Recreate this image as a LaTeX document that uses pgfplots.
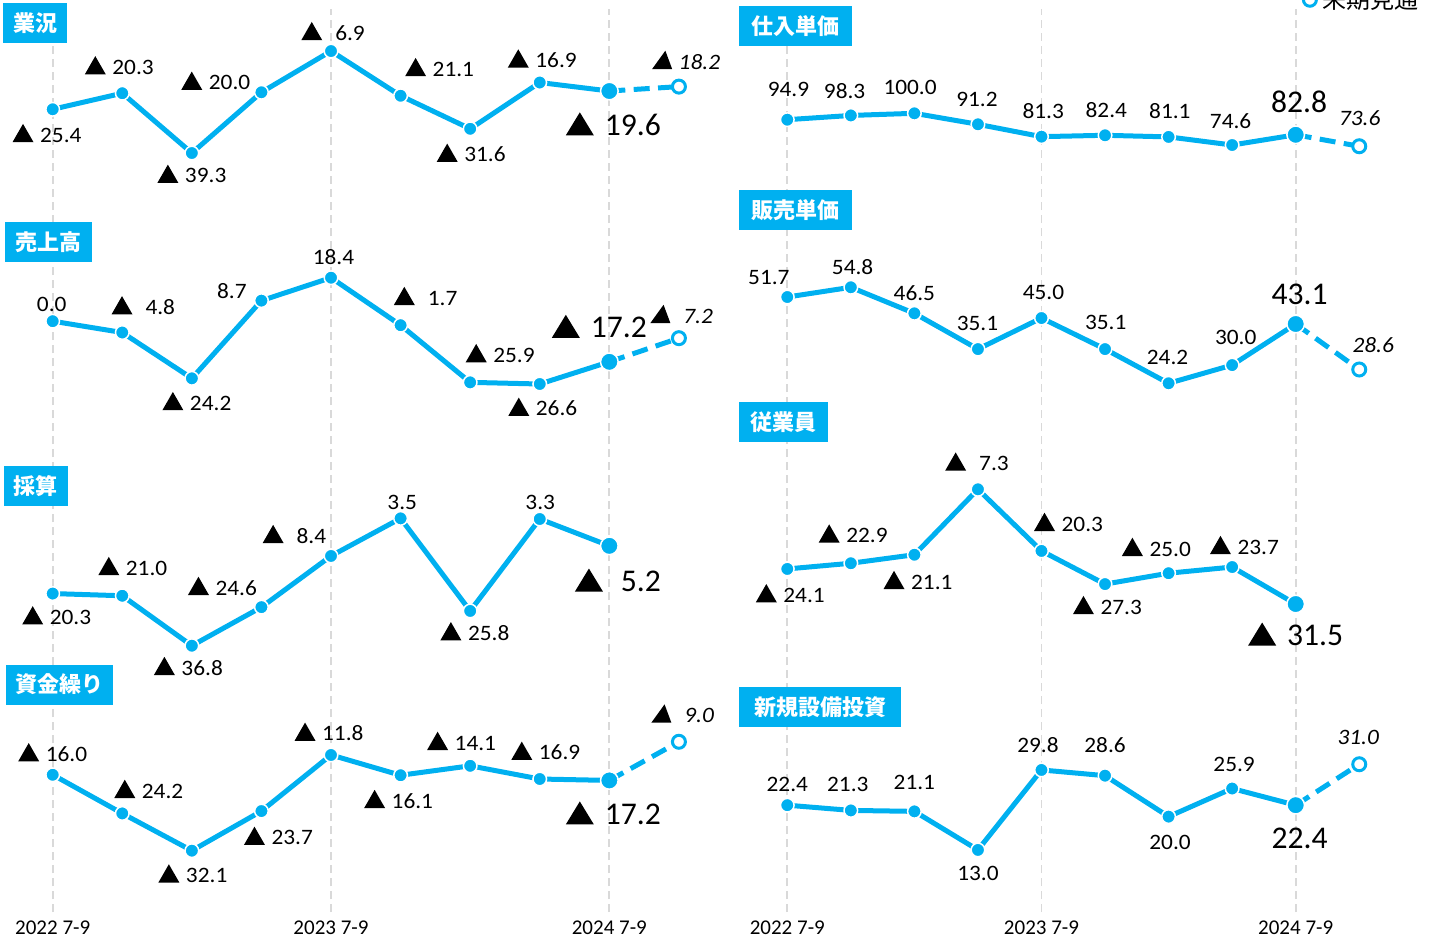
\documentclass[border=0pt]{standalone}
\usepackage{pgfplots}
\pgfplotsset{compat=1.18}
\usepackage{fontspec}
\setmainfont{Carlito}
\newfontfamily\lblfont[FakeStretch=1.06]{Carlito}
\newfontfamily\bigfont{Carlito}
\newfontfamily\cjk{Noto Sans CJK JP}

\definecolor{cy}{HTML}{00B0F0}
\definecolor{gridc}{HTML}{D9D9D9}

% triangles for negative values (small, italic, large), built once
\newsavebox\trSbox
\newsavebox\trIbox
\newsavebox\trLbox
\newcommand{\mn}[1]{\usebox\trSbox\hspace{3.3pt}#1}
\newcommand{\mns}[1]{\usebox\trSbox\hspace{6.5pt}#1}
\newcommand{\mnL}[1]{\usebox\trLbox\hspace{5.5pt}#1}
\newcommand{\mnLs}[1]{\usebox\trLbox\hspace{9pt}#1}
\newcommand{\mnIs}[1]{\usebox\trIbox\hspace{6.5pt}#1}
\newcommand{\mnI}[1]{\usebox\trIbox\hspace{3.3pt}#1}

% label at point (x,v), shifted by (dx,dy) pixels, dy downwards
\newcommand{\lbl}[6][lb]{\node[#1] at ([xshift={(#4)*0.5pt}, yshift={-(#5)*0.5pt}]axis cs:#2,#3) {#6};}
% title box, centre in pixels
\newcommand{\ttl}[4]{\node[ttl, minimum width=#3pt] at ({#1*0.5pt},{(939-#2)*0.5pt}) {#4};}

\tikzset{
  lb/.style={font=\lblfont\fontsize{11pt}{13pt}\selectfont, inner sep=0pt, anchor=base, yshift=-3.45pt},
  lbi/.style={lb, font=\lblfont\itshape\fontsize{11pt}{13pt}\selectfont},
  lbL/.style={font=\bigfont\fontsize{15.8pt}{18pt}\selectfont, inner sep=0pt, anchor=base, yshift=-5pt},
  ttl/.style={fill=cy, text=white, font=\cjk\bfseries\fontsize{11pt}{11pt}\selectfont,
    inner xsep=0pt, inner ysep=0pt, minimum height=20pt},
}

\pgfplotsset{
  panel/.style={scale only axis, hide axis, clip=false, xmin=-0.5, xmax=9.5, anchor=south west},
  lcol/.style={panel, width=347.9pt},
  rcol/.style={panel, width=317.75pt},
  bg/.style={scale only axis, anchor=south west, height=451.5pt, xmin=-0.5, xmax=9.5, ymin=0, ymax=1,
    axis line style={draw=none}, ytick=\empty, xtick={0,4,8},
    xticklabels={2022 7-9, 2023 7-9, 2024 7-9}, major tick length=0pt,
    xmajorgrids, grid style={gridc, line width=0.9pt, dash pattern=on 4pt off 2.5pt},
    xticklabel style={font=\fontsize{10.5pt}{12pt}\selectfont, anchor=center, yshift=-8pt}},
  sol/.style={cy, line width=2.5pt, line join=round, mark=*, mark size=3.4pt,
    mark options={solid, fill=cy, draw=white, line width=0.75pt}},
  big/.style={only marks, mark=*, mark size=4.4pt, mark options={fill=cy, draw=white, line width=0.75pt}},
  fcl/.style={cy, line width=2.5pt, dash pattern=on 8pt off 4.2pt, mark=*, mark indices={2}, mark size=3.25pt,
    mark options={solid, fill=white, draw=cy, line width=1.5pt}},
}

\begin{document}
\sbox\trSbox{\tikz[baseline=0pt]\fill (0,0)--(10.5pt,0)--(5.25pt,9.15pt)--cycle;}%
\sbox\trIbox{\tikz[baseline=0pt]\fill (0,0)--(10pt,0)--(6.6pt,9.15pt)--cycle;}%
\sbox\trLbox{\tikz[baseline=0pt]\fill (0,0)--(14pt,0)--(7pt,11.5pt)--cycle;}%
\begin{tikzpicture}
\useasboundingbox (0,0) rectangle (716.5pt,469.5pt);

% gridlines and period labels
\begin{axis}[bg, at={(8.95pt,13.5pt)}, width=347.9pt]
\addplot[draw=none] coordinates {(0,0)};
\end{axis}
\begin{axis}[bg, at={(377.75pt,13.5pt)}, width=317.75pt]
\addplot[draw=none] coordinates {(0,0)};
\end{axis}

% 業況
\begin{axis}[lcol, at={(8.95pt,360.4pt)}, height=110.18pt, ymin=-60, ymax=10]
\addplot[fcl] coordinates {(8,-19.6) (9,-18.2)};
\addplot[sol] coordinates {(0,-25.4) (1,-20.3) (2,-39.3) (3,-20.0) (4,-6.9) (5,-21.1) (6,-31.6) (7,-16.9) (8,-19.6)};
\addplot[big] coordinates {(8,-19.6)};
\lbl{0}{-25.4}{-5.7}{26}{\mn{25.4}}
\lbl{1}{-20.3}{-3}{-25.7}{\mn{20.3}}
\lbl{2}{-39.3}{0}{23}{\mn{39.3}}
\lbl{3}{-20.0}{-45.7}{-9.3}{\mn{20.0}}
\lbl{4}{-6.9}{2}{-17.7}{\mns{6.9}}
\lbl{5}{-21.1}{39}{-26.4}{\mn{21.1}}
\lbl{6}{-31.6}{1}{26.2}{\mn{31.6}}
\lbl{7}{-16.9}{2.5}{-21.8}{\mn{16.9}}
\lbl[lbL]{8}{-19.6}{4}{34.3}{\mnL{19.6}}
\lbl[lbi]{9}{-18.2}{7.2}{-24.5}{\mnI{18.2}}
\end{axis}

% 売上高
\begin{axis}[lcol, at={(8.95pt,238.05pt)}, height=106.3pt, ymin=-60, ymax=30]
\addplot[fcl] coordinates {(8,-17.2) (9,-7.2)};
\addplot[sol] coordinates {(0,0.0) (1,-4.8) (2,-24.2) (3,8.7) (4,18.4) (5,-1.7) (6,-25.9) (7,-26.6) (8,-17.2)};
\addplot[big] coordinates {(8,-17.2)};
\lbl{0}{0.0}{-1}{-17}{0.0}
\lbl{1}{-4.8}{21}{-25}{\mns{4.8}}
\lbl{2}{-24.2}{5}{25}{\mn{24.2}}
\lbl{3}{8.7}{-29.5}{-9.5}{8.7}
\lbl{4}{18.4}{2.5}{-19.7}{18.4}
\lbl{5}{-1.7}{25}{-27}{\mns{1.7}}
\lbl{6}{-25.9}{30}{-27}{\mn{25.9}}
\lbl{7}{-26.6}{3}{25}{\mn{26.6}}
\lbl[lbL]{8}{-17.2}{-10}{-34}{\mnL{17.2}}
\lbl[lbi]{9}{-7.2}{2.7}{-22}{\mnIs{7.2}}
\end{axis}

% 採算
\begin{axis}[lcol, at={(8.95pt,125.8pt)}, height=110.6pt, ymin=-50, ymax=20]
\addplot[sol] coordinates {(0,-20.3) (1,-21.0) (2,-36.8) (3,-24.6) (4,-8.4) (5,3.5) (6,-25.8) (7,3.3) (8,-5.2)};
\addplot[big] coordinates {(8,-5.2)};
\lbl{0}{-20.3}{4}{24}{\mn{20.3}}
\lbl{1}{-21.0}{10.5}{-27.5}{\mn{21.0}}
\lbl{2}{-36.8}{-3.5}{22.5}{\mn{36.8}}
\lbl{3}{-24.6}{-39}{-19}{\mn{24.6}}
\lbl{4}{-8.4}{-36.6}{-19.7}{\mns{8.4}}
\lbl{5}{3.5}{1.6}{-15.8}{3.5}
\lbl{6}{-25.8}{4.7}{22.5}{\mn{25.8}}
\lbl{7}{3.3}{0.5}{-16}{3.3}
\lbl[lbL]{8}{-5.2}{8.6}{35.7}{\mnLs{5.2}}
\end{axis}

% 資金繰り
\begin{axis}[lcol, at={(8.95pt,25.55pt)}, height=94.28pt, ymin=-40, ymax=0]
\addplot[fcl] coordinates {(8,-17.2) (9,-9.0)};
\addplot[sol] coordinates {(0,-16.0) (1,-24.2) (2,-32.1) (3,-23.7) (4,-11.8) (5,-16.1) (6,-14.1) (7,-16.9) (8,-17.2)};
\addplot[big] coordinates {(8,-17.2)};
\lbl{0}{-16.0}{0}{-20.3}{\mn{16.0}}
\lbl{1}{-24.2}{26.5}{-22.3}{\mn{24.2}}
\lbl{2}{-32.1}{1}{25}{\mn{32.1}}
\lbl{3}{-23.7}{17}{27}{\mn{23.7}}
\lbl{4}{-11.8}{-2}{-21}{\mn{11.8}}
\lbl{5}{-16.1}{-2}{26}{\mn{16.1}}
\lbl{6}{-14.1}{-8.6}{-22.7}{\mn{14.1}}
\lbl{7}{-16.9}{6}{-26}{\mn{16.9}}
\lbl[lbL]{8}{-17.2}{4}{34}{\mnL{17.2}}
\lbl[lbi]{9}{-9.0}{3.7}{-26}{\mnIs{9.0}}
\end{axis}

% 仕入単価
\begin{axis}[rcol, at={(377.75pt,375.4pt)}, height=62.4pt, ymin=40, ymax=140,
  legend style={at={(axis cs:8.115,191)}, anchor=west, draw=none, fill=none, inner sep=0pt,
    column sep=3pt, font=\cjk\fontsize{12pt}{12pt}\selectfont, nodes={inner sep=0pt}}]
\addlegendimage{only marks, mark=*, mark size=3.25pt, mark options={fill=white, draw=cy, line width=1.5pt}}
\addlegendentry{来期見通}
\addplot[fcl] coordinates {(8,82.8) (9,73.6)};
\addplot[sol] coordinates {(0,94.9) (1,98.3) (2,100.0) (3,91.2) (4,81.3) (5,82.4) (6,81.1) (7,74.6) (8,82.8)};
\addplot[big] coordinates {(8,82.8)};
\lbl{0}{94.9}{1.2}{-29.8}{94.9}
\lbl{1}{98.3}{-6.2}{-23.7}{98.3}
\lbl{2}{100.0}{-4.3}{-25.8}{100.0}
\lbl{3}{91.2}{-1}{-25.1}{91.2}
\lbl{4}{81.3}{1.7}{-25.2}{81.3}
\lbl{5}{82.4}{1.3}{-24.2}{82.4}
\lbl{6}{81.1}{1.3}{-25.2}{81.1}
\lbl{7}{74.6}{-1.5}{-23.5}{74.6}
\lbl[lbL]{8}{82.8}{3.5}{-32.5}{82.8}
\lbl[lbi]{9}{73.6}{0.5}{-27.4}{73.6}
\end{axis}

% 販売単価
\begin{axis}[rcol, at={(377.75pt,239.9pt)}, height=125.48pt, ymin=0, ymax=80]
\addplot[fcl] coordinates {(8,43.1) (9,28.6)};
\addplot[sol] coordinates {(0,51.7) (1,54.8) (2,46.5) (3,35.1) (4,45.0) (5,35.1) (6,24.2) (7,30.0) (8,43.1)};
\addplot[big] coordinates {(8,43.1)};
\lbl{0}{51.7}{-18.4}{-19.7}{51.7}
\lbl{1}{54.8}{1.8}{-20.1}{54.8}
\lbl{2}{46.5}{0}{-20}{46.5}
\lbl{3}{35.1}{-0.5}{-25.7}{35.1}
\lbl{4}{45.0}{2}{-25}{45.0}
\lbl{5}{35.1}{0.7}{-26}{35.1}
\lbl{6}{24.2}{-1}{-25.5}{24.2}
\lbl{7}{30.0}{3.6}{-27}{30.0}
\lbl[lbL]{8}{43.1}{4}{-29.3}{43.1}
\lbl[lbi]{9}{28.6}{14}{-24.2}{28.6}
\end{axis}

% 従業員
\begin{axis}[rcol, at={(377.75pt,135.5pt)}, height=118.5pt, ymin=-45, ymax=5]
\addplot[sol] coordinates {(0,-24.1) (1,-22.9) (2,-21.1) (3,-7.3) (4,-20.3) (5,-27.3) (6,-25.0) (7,-23.7) (8,-31.5)};
\addplot[big] coordinates {(8,-31.5)};
\lbl{0}{-24.1}{3}{26.5}{\mn{24.1}}
\lbl{1}{-22.9}{2.3}{-27.5}{\mn{22.9}}
\lbl{2}{-21.1}{3.6}{27.5}{\mn{21.1}}
\lbl{3}{-7.3}{-1}{-25.5}{\mns{7.3}}
\lbl{4}{-20.3}{27}{-26.8}{\mn{20.3}}
\lbl{5}{-27.3}{2.4}{23.2}{\mn{27.3}}
\lbl{6}{-25.0}{-12.2}{-24.1}{\mn{25.0}}
\lbl{7}{-23.7}{12.3}{-19.8}{\mn{23.7}}
\lbl[lbL]{8}{-31.5}{0}{31.5}{\mnL{31.5}}
\end{axis}

% 新規設備投資
\begin{axis}[rcol, at={(377.75pt,13.6pt)}, height=95.2pt, ymin=0, ymax=40]
\addplot[fcl] coordinates {(8,22.4) (9,31.0)};
\addplot[sol] coordinates {(0,22.4) (1,21.3) (2,21.1) (3,13.0) (4,29.8) (5,28.6) (6,20.0) (7,25.9) (8,22.4)};
\addplot[big] coordinates {(8,22.4)};
\lbl{0}{22.4}{0}{-21}{22.4}
\lbl{1}{21.3}{-3}{-26}{21.3}
\lbl{2}{21.1}{0}{-29}{21.1}
\lbl{3}{13.0}{0}{24}{13.0}
\lbl{4}{29.8}{-3.5}{-24}{29.8}
\lbl{5}{28.6}{0}{-30}{28.6}
\lbl{6}{20.0}{1.5}{26}{20.0}
\lbl{7}{25.9}{2}{-24}{25.9}
\lbl[lbL]{8}{22.4}{4}{33}{22.4}
\lbl[lbi]{9}{31.0}{-1}{-27}{31.0}
\end{axis}

% panel titles
\ttl{35}{23}{32}{業況}
\ttl{48.2}{242}{43.6}{売上高}
\ttl{35.6}{486}{32}{採算}
\ttl{59.3}{684.5}{53.3}{資金繰り}
\ttl{795.5}{26}{56.5}{仕入単価}
\ttl{795.5}{210}{56.5}{販売単価}
\ttl{783.6}{421.7}{44.7}{従業員}
\ttl{820}{707}{81}{新規設備投資}
\end{tikzpicture}
\end{document}
